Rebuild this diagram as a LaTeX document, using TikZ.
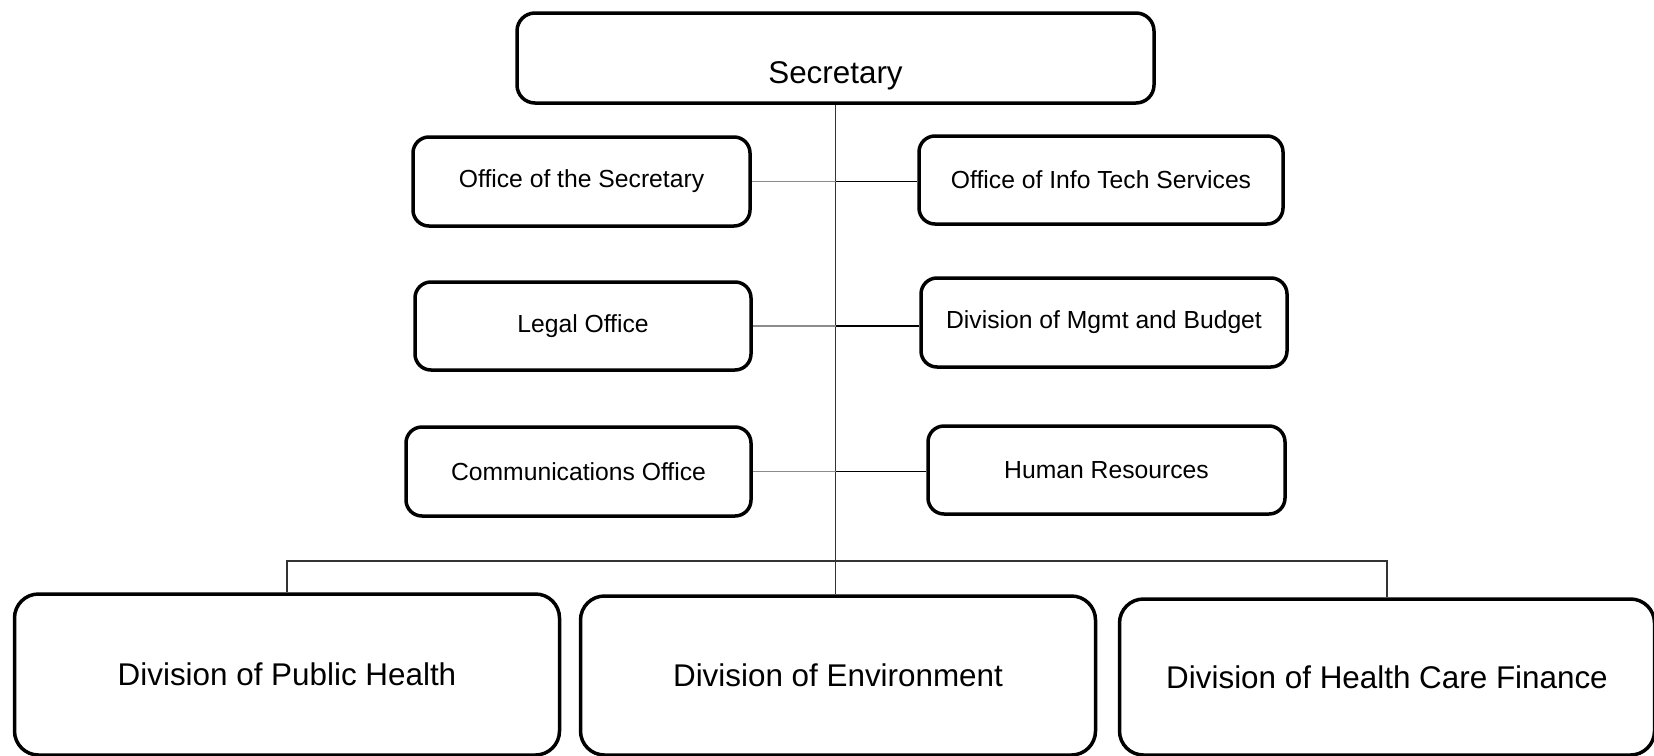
\documentclass[tikz,border=0pt]{standalone}
\usepackage{fontspec}
\setmainfont{Liberation Sans}
\begin{document}
\begin{tikzpicture}[x=1pt,y=-1pt,
  box/.style={draw=black, line width=3.5pt, rounded corners=16pt, fill=white,
    inner sep=2pt, font=\fontsize{24.7}{28}\selectfont},
  bigbox/.style={box, rounded corners=24pt, font=\fontsize{31.4}{36}\selectfont},
  conn/.style={line width=1.4pt, draw=black!80},
  connL/.style={line width=1.6pt, draw=black!45},
  connR/.style={line width=1.6pt, draw=black}]
\useasboundingbox (0,0) rectangle (1654,755);
\fill[white] (0,0) rectangle (1654,755);
% top
\node[box, rounded corners=18pt, font=\fontsize{31.4}{36}\selectfont, text height=55pt, text depth=5pt,
  minimum width=637pt, minimum height=90pt] (sec) at (835.5,58) {Secretary};
% middle left
\node[box, minimum width=337pt, minimum height=89pt] (osec) at (581.5,181.5) {Office of the Secretary};
\node[box, minimum width=336pt, minimum height=88pt] (legal) at (583,326) {Legal Office};
\node[box, minimum width=345pt, minimum height=89pt] (comm) at (578.5,471.5) {Communications Office};
% middle right
\node[box, minimum width=364pt, minimum height=88pt] (oit) at (1101,180) {Office of Info Tech Services};
\node[box, minimum width=366pt, minimum height=89pt] (mgmt) at (1104,322.5) {Division of Mgmt and Budget};
\node[box, minimum width=357pt, minimum height=88pt] (hr) at (1106.5,470) {Human Resources};
% bottom
\node[bigbox, minimum width=545pt, minimum height=161pt] (ph) at (287,674.5) {Division of Public Health};
\node[bigbox, minimum width=515pt, minimum height=159pt] (env) at (838,675.5) {Division of Environment};
\node[bigbox, minimum width=535pt, minimum height=156pt] (hcf) at (1387,677) {Division of Health Care Finance};
% connectors
\coordinate (bus) at (836,561);
\draw[conn] (sec.south) -- (sec.south |- bus) -- (sec.south |- env.north);
\draw[conn] (ph.north) -- (ph.north |- bus) -- (hcf.north |- bus) -- (hcf.north);
\draw[connL] (osec.east) -- (osec.east -| sec.south);
\draw[connR] (osec.east -| sec.south) -- (oit.west |- osec.east);
\draw[connL] (legal.east) -- (legal.east -| sec.south);
\draw[connR] (legal.east -| sec.south) -- (mgmt.west |- legal.east);
\draw[connL] (comm.east) -- (comm.east -| sec.south);
\draw[connR] (comm.east -| sec.south) -- (hr.west |- comm.east);
\end{tikzpicture}
\end{document}
